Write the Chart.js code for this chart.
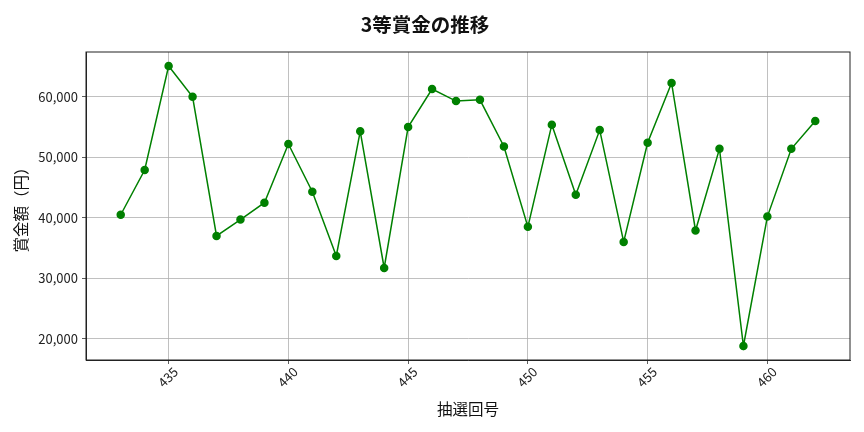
<!DOCTYPE html>
<html>
<head>
<meta charset="utf-8">
<script src="https://cdn.jsdelivr.net/npm/chart.js@4/dist/chart.umd.min.js"></script>
<style>
  html, body { margin: 0; padding: 0; background: #fff; }
  #wrap { width: 864px; height: 432px; }
</style>
</head>
<body>
<div id="wrap"><canvas id="chart" width="864" height="432"></canvas></div>
<script>
// data
const draws   = [433,434,435,436,437,438,439,440,441,442,443,444,445,446,447,
                 448,449,450,451,452,453,454,455,456,457,458,459,460,461,462];
const prizes  = [40500,47900,65100,60000,37000,39700,42500,52200,44300,33700,54300,31700,55000,61300,59300,
                 59500,51800,38500,55400,43800,54500,36000,52400,62300,37900,51400,18800,40200,51400,56000];
const xTicks  = [435,440,445,450,455,460];
const yTicks  = [20000,30000,40000,50000,60000];

const FONT = "'Noto Sans CJK JP', 'Noto Sans', sans-serif";

// matplotlib-like 5% margins
const xPad = (Math.max(...draws) - Math.min(...draws)) * 0.05;
const yPad = (Math.max(...prizes) - Math.min(...prizes)) * 0.05;

const frame = {
  id: 'frame',
  afterDraw(chart) {
    const { ctx, chartArea: a } = chart;
    ctx.save();
    ctx.strokeStyle = '#222';
    ctx.lineWidth = 1;
    ctx.strokeRect(a.left, a.top, a.right - a.left, a.bottom - a.top);
    ctx.restore();
  },
};

new Chart(document.getElementById('chart'), {
  type: 'line',
  data: {
    datasets: [{
      data: draws.map((d, i) => ({ x: d, y: prizes[i] })),
      borderColor: '#008000',
      backgroundColor: '#008000',
      borderWidth: 1.5,
      pointRadius: 3.5,
      pointHoverRadius: 3.5,
      tension: 0,
    }],
  },
  options: {
    responsive: false,
    animation: false,
    layout: { padding: { left: 0, right: 14, top: 0, bottom: 0 } },
    plugins: {
      legend: { display: false },
      tooltip: { enabled: false },
      title: {
        display: true,
        text: '3等賞金の推移',
        color: '#111',
        font: { family: FONT, size: 19.5, weight: 'bold' },
        padding: { top: 13, bottom: 15.6 },
      },
    },
    scales: {
      x: {
        type: 'linear',
        min: Math.min(...draws) - xPad,
        max: Math.max(...draws) + xPad,
        afterBuildTicks: s => { s.ticks = xTicks.map(v => ({ value: v })); },
        afterFit: s => { s.height = 72; },
        grid: { color: '#b0b0b0', lineWidth: 0.8, tickLength: 4, tickColor: '#333' },
        border: { color: '#222', width: 1 },
        ticks: {
          color: '#222', font: { family: FONT, size: 13 },
          minRotation: 45, maxRotation: 45, labelOffset: 7, padding: 0,
          callback: v => String(v),
        },
        title: {
          display: true, text: '抽選回号', color: '#111',
          font: { family: FONT, size: 15.5 },
          padding: { top: 0, bottom: 14 },
        },
      },
      y: {
        min: Math.min(...prizes) - yPad,
        max: Math.max(...prizes) + yPad,
        afterBuildTicks: s => { s.ticks = yTicks.map(v => ({ value: v })); },
        afterFit: s => { s.width = 86; },
        grid: { color: '#b0b0b0', lineWidth: 0.8, tickLength: 4, tickColor: '#333' },
        border: { color: '#222', width: 1 },
        ticks: {
          color: '#222', font: { family: FONT, size: 13 }, padding: 4,
          callback: v => v.toLocaleString('en-US'),
        },
        title: {
          display: true, text: '賞金額（円）', color: '#111',
          font: { family: FONT, size: 15.5 },
          padding: { top: 12, bottom: 0 },
        },
      },
    },
  },
  plugins: [frame],
});
</script>
</body>
</html>
